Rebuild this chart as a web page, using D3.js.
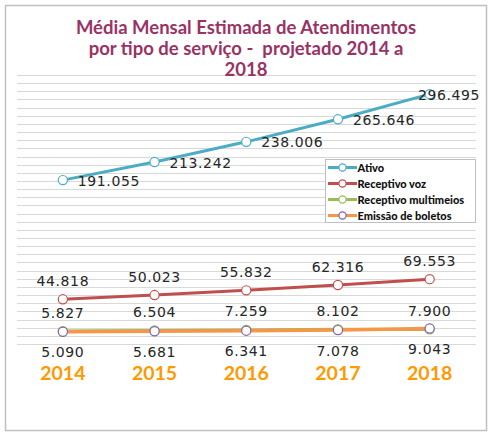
<!DOCTYPE html>
<html><head><meta charset="utf-8">
<script src="https://cdn.jsdelivr.net/npm/d3@7"></script>
<style>body{margin:0;background:#fff}svg{display:block}</style>
</head><body>
<script>
const years = ["2014","2015","2016","2017","2018"];
const ativo = [191055, 213242, 238006, 265646, 296495];
const receptivoVoz = [44818, 50023, 55832, 62316, 69553];
const receptivoMultimeios = [5827, 6504, 7259, 8102, 7900];
const emissaoBoletos = [5090, 5681, 6341, 7078, 9043];
const seriesNames = ["Ativo","Receptivo voz","Receptivo multimeios","Emissão de boletos"];
const titleLines = ["Média Mensal Estimada de Atendimentos","por tipo de serviço -  projetado 2014 a","2018"];
const yDomain = [-10000, 320000];
const gridStep = 10000;

const W = 493, H = 438;
const svg = d3.select("body").append("svg").attr("width", W).attr("height", H);

svg.append("rect").attr("x",5.5).attr("y",5.5).attr("width",481).attr("height",425)
  .attr("fill","#fff").attr("stroke","#c0c0c0").attr("stroke-width",1.5);

const x = d3.scaleBand().domain(years).range([17, 475.5]);
const y = d3.scaleLinear().domain(yDomain).range([344, 75]);
const cx = d => x(d) + x.bandwidth()/2;

// gridlines
const gridVals = d3.range(yDomain[0], yDomain[1] + 1, gridStep);
svg.append("g").selectAll("line").data(gridVals).join("line")
  .attr("x1",17).attr("x2",476).attr("y1",d=>Math.round(y(d))+0.5).attr("y2",d=>Math.round(y(d))+0.5)
  .attr("stroke","#d9d9d9").attr("stroke-width",1);

// title
svg.append("g").selectAll("text").data(titleLines).join("text")
  .attr("x",246).attr("y",(d,i)=>33.5 + i*21)
  .attr("text-anchor","middle").attr("fill","#993366")
  .attr("font-family","Lato").attr("font-weight","bold").attr("font-size",18.5)
  .style("white-space","pre")
  .text(d=>d);

const series = [
  {name:seriesNames[0], values:ativo, color:"#4BACC6", marker:"#4BACC6", w:3, label:"right"},
  {name:seriesNames[1], values:receptivoVoz, color:"#C0504D", marker:"#C0504D", w:3, label:"above"},
  {name:seriesNames[2], values:receptivoMultimeios, color:"#9BBB59", marker:"#9BBB59", w:3, label:"above"},
  {name:seriesNames[3], values:emissaoBoletos, color:"#F79646", marker:"#8064A2", w:3.5, label:"below"}
];

const fmt = v => d3.format(",")(v).replace(/,/g,".");
const line = d3.line().x((d,i)=>cx(years[i])).y(d=>y(d));

series.forEach(s=>{
  svg.append("path").datum(s.values).attr("d",line).attr("fill","none")
    .attr("stroke",s.color).attr("stroke-width",s.w).attr("stroke-linejoin","round");
});
series.forEach(s=>{
  svg.append("g").selectAll("circle").data(s.values).join("circle")
    .attr("cx",(d,i)=>cx(years[i])).attr("cy",d=>y(d)).attr("r",4.6)
    .attr("fill","#fff").attr("stroke",s.marker).attr("stroke-width",1.2);
});

// data labels
const labelFont = {family:"DejaVu Sans", size:14};
series.forEach(s=>{
  const g = svg.append("g");
  s.values.forEach((v,i)=>{
    const px = cx(years[i]), py = y(v);
    const t = g.append("text").attr("fill","#262626")
      .attr("font-family",labelFont.family).attr("font-size",labelFont.size)
      .attr("letter-spacing",0.6).text(fmt(v));
    if (s.label==="right") {
      t.attr("x",px+15).attr("y",py+5.5);
      const bb = t.node().getBBox();
      if (bb.x + bb.width > 480) t.attr("x", 480 - bb.width);
    } else if (s.label==="above") {
      t.attr("x",px).attr("y",py-13.5).attr("text-anchor","middle");
    } else {
      t.attr("x",px).attr("y",py+25.5).attr("text-anchor","middle");
    }
  });
});

// x labels
svg.append("g").selectAll("text").data(years).join("text")
  .attr("x",d=>cx(d)).attr("y",379.5).attr("text-anchor","middle")
  .attr("fill","#FF9900").attr("font-family","Lato").attr("font-weight","bold")
  .attr("font-size",19.5).text(d=>d);

// legend
const lg = svg.append("g");
lg.append("rect").attr("x",325.5).attr("y",159.5).attr("width",150).attr("height",63)
  .attr("fill","#fff").attr("stroke","#bfbfbf").attr("stroke-width",1);
series.forEach((s,i)=>{
  const ly = 167.5 + i*16;
  lg.append("line").attr("x1",328).attr("x2",357).attr("y1",ly).attr("y2",ly)
    .attr("stroke",s.color).attr("stroke-width",3);
  lg.append("circle").attr("cx",342.5).attr("cy",ly).attr("r",3.6)
    .attr("fill","#fff").attr("stroke",s.marker).attr("stroke-width",1.2);
  lg.append("text").attr("x",357.5).attr("y",ly+4).attr("fill","#111")
    .attr("font-family","Lato").attr("font-weight","900").attr("font-size",11)
    .text(s.name);
});
</script>
</body></html>
